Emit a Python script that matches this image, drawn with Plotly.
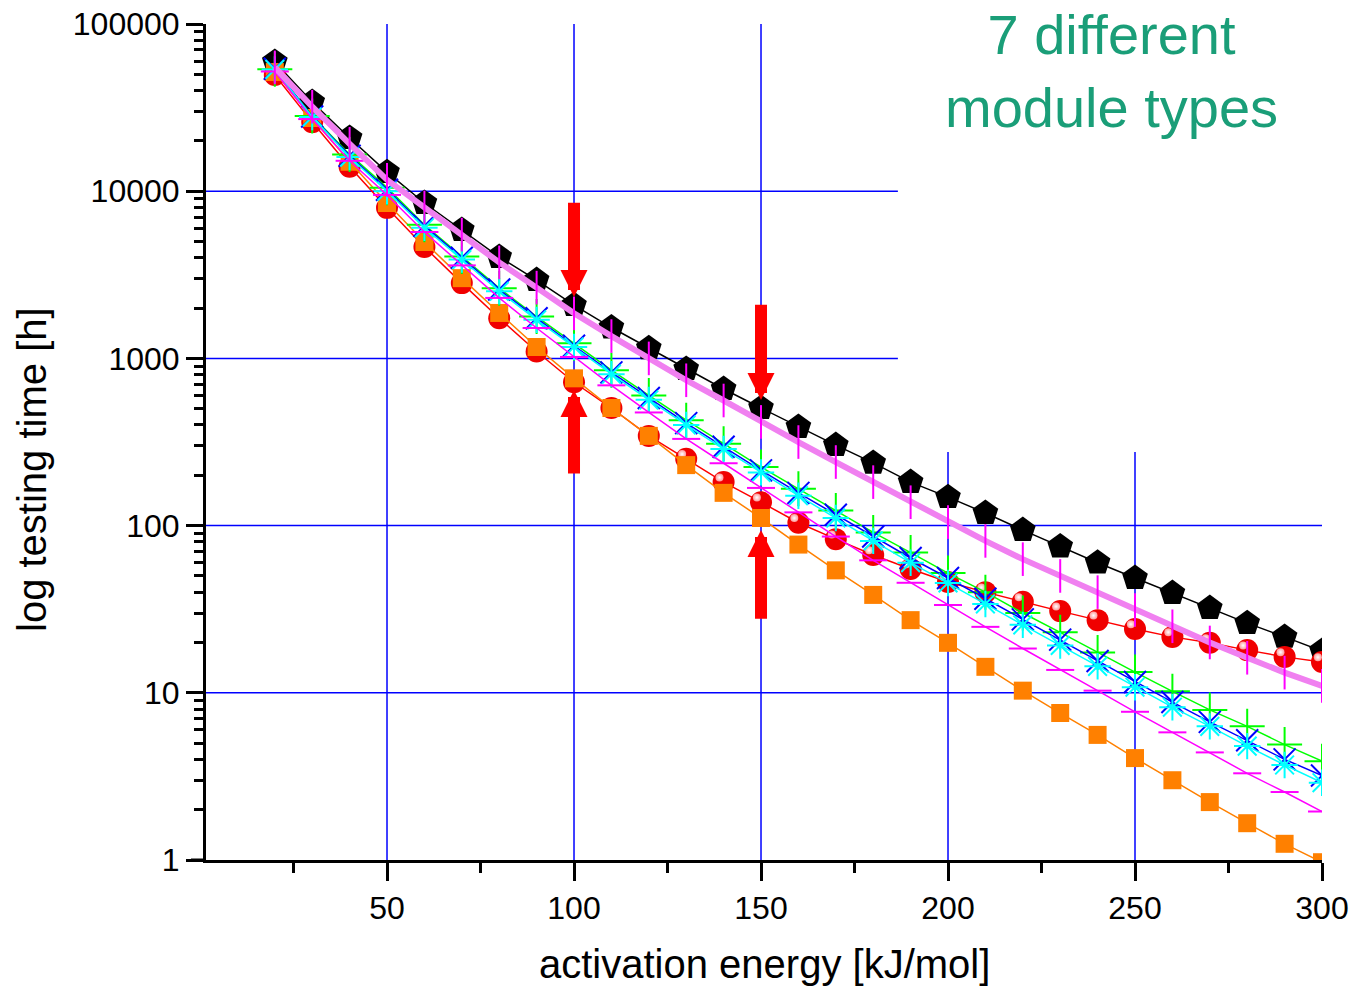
import math
import plotly.graph_objects as go

# ---------------- data ----------------
energy = list(range(20, 301, 10))  # activation energy [kJ/mol]

black_pent = [59300, 34100, 20800, 13000, 8500, 5860, 4040, 2940, 2085, 1530,
              1150, 864, 656, 505, 389, 303, 237, 182, 148, 119,
              94, 75, 60, 48.6, 39.5, 32.1, 26.1, 21.6, 17.8]
red_sphere = [49500, 25900, 14000, 7950, 4640, 2820, 1740, 1100, 720, 505,
              344, 251, 182, 138, 104, 83, 66.7, 55, 46, 40,
              35, 30.8, 27.2, 24.1, 21.6, 19.9, 18.0, 16.4, 15.3]
orange_sq = [51600, 27400, 15000, 8500, 4970, 3020, 1870, 1170, 760, 505,
             344, 230, 157, 111, 77, 54, 38.5, 27.2, 19.9, 14.3,
             10.3, 7.57, 5.6, 4.07, 3.0, 2.22, 1.66, 1.25, 0.97]
green_plus = [53700, 28200, 16600, 10500, 6300, 4070, 2630, 1780, 1230, 850,
              600, 427, 309, 224, 166, 123, 91, 69, 52, 40,
              30, 23, 17.4, 13.3, 10.2, 7.9, 6.3, 4.9, 3.9]
blue_x = [54000, 28000, 16300, 10200, 6200, 4000, 2580, 1740, 1190, 825,
          580, 410, 296, 214, 157, 116, 86, 64, 48.6, 36.5,
          27.5, 20.8, 15.5, 11.6, 8.8, 6.7, 5.2, 4.0, 3.2]
cyan_star = [53500, 27800, 16000, 10000, 6050, 3900, 2520, 1700, 1170, 805,
             565, 400, 287, 208, 151, 111, 81, 60, 45.4, 34,
             25.5, 19.2, 14.4, 10.8, 8.2, 6.3, 4.8, 3.7, 2.9]
magenta_dash = [52000, 27000, 15200, 9500, 5700, 3600, 2300, 1520, 1020, 690,
                475, 330, 236, 168, 120, 86, 62, 45.5, 33.5, 24.8,
                18.4, 13.7, 10.3, 7.7, 5.8, 4.4, 3.3, 2.55, 1.95]
violet_line = [55000, 32000, 19200, 11700, 8000, 5500, 3750, 2650, 1860, 1360,
               1000, 740, 560, 417, 316, 240, 182, 138, 105, 81,
               63, 50, 40, 31.3, 25, 20, 16.2, 13.2, 11]

y_tick_vals = [1, 10, 100, 1000, 10000, 100000]
y_tick_text = ["1", "10", "100", "1000", "10000", "100000"]
y_minor_vals = [m * d for d in [1, 10, 100, 1000, 10000] for m in range(2, 10)]
x_tick_vals = [50, 100, 150, 200, 250, 300]
x_tick_text = ["50", "100", "150", "200", "250", "300"]
x_minor_vals = [25, 75, 125, 175, 225, 275]

# arrows: (energy, tip value, tail value)
arrow_x = [100, 100, 150, 150]
arrow_tip = [2330, 647, 564, 94]
arrow_tail = [8700, 201, 2140, 27.2]

FONT = "Liberation Sans, Arial, sans-serif"

fig = go.Figure()


def add_series(y, line_color, symbol, size, marker_color, line_width=1.5,
               mline_width=0, mline_color=None):
    fig.add_trace(go.Scatter(
        x=energy, y=y, mode="lines+markers",
        line=dict(color=line_color, width=line_width),
        marker=dict(symbol=symbol, size=size, color=marker_color,
                    line=dict(width=mline_width,
                              color=mline_color if mline_color else marker_color)),
        hoverinfo="skip", showlegend=False))


add_series(black_pent, "black", "pentagon", 27, "black")
add_series(red_sphere, "#ff0000", "circle", 22, "#f00000")
# specular highlight of the sphere markers
fig.add_trace(go.Scatter(
    x=[e - 1.1 for e in energy], y=[v * 10 ** 0.028 for v in red_sphere],
    mode="markers",
    marker=dict(symbol="circle", size=8, color="#ff9a9a",
                gradient=dict(type="radial", color="#ffffff"), line=dict(width=0)),
    hoverinfo="skip", showlegend=False))
add_series(orange_sq, "#ff8000", "square", 18, "#ff8000")
add_series(green_plus, "#00ff00", "cross-thin", 25, "#00ff00", mline_width=2)
add_series(blue_x, "#0000ff", "x-thin", 22, "#0000ff", mline_width=2)
add_series(cyan_star, "#00ffff", "asterisk", 22, "#00ffff", mline_width=2)
add_series(magenta_dash, "#ff00ff", "line-ew", 20, "#ff00ff", mline_width=2)
add_series(violet_line, "#f080f0", "line-ns", 24, "#ff00ff", line_width=6,
           mline_width=2)

shapes = []
# grid lines (blue)
for xv in [50, 100, 150]:
    shapes.append(dict(type="line", xref="x", yref="paper", x0=xv, x1=xv, y0=0, y1=1,
                       line=dict(color="#0000ff", width=1.5), layer="below"))
for xv in [200, 250]:
    shapes.append(dict(type="line", xref="x", yref="paper", x0=xv, x1=xv, y0=0, y1=0.488,
                       line=dict(color="#0000ff", width=1.5), layer="below"))
for yv in [10, 100]:
    shapes.append(dict(type="line", xref="paper", yref="y", x0=0, x1=1, y0=yv, y1=yv,
                       line=dict(color="#0000ff", width=1.5), layer="below"))
for yv in [1000, 10000]:
    shapes.append(dict(type="line", xref="x", yref="y", x0=1.6, x1=186.6, y0=yv, y1=yv,
                       line=dict(color="#0000ff", width=1.5), layer="below"))
# x-axis line stub left of the y axis
shapes.append(dict(type="line", xref="paper", yref="paper", x0=-15 / 1116, x1=0, y0=0, y1=0,
                   line=dict(color="black", width=3), layer="above"))

annotations = []
for ax_, tip, tail in zip(arrow_x, arrow_tip, arrow_tail):
    annotations.append(dict(
        x=ax_, y=math.log10(tip), ax=ax_, ay=math.log10(tail),
        xref="x", yref="y", axref="x", ayref="y", text="",
        showarrow=True, arrowhead=2, arrowsize=0.45, arrowwidth=12,
        arrowcolor="#ff0000", standoff=0, startstandoff=0))

annotations.append(dict(
    text="7 different<br>module types", xref="paper", yref="paper",
    x=(1111 - 206) / 1116, y=(860 - 1) / 836, xanchor="center", yanchor="top",
    showarrow=False, font=dict(family=FONT, size=56, color="#1a9e78")))
annotations.append(dict(
    text="log testing time [h]", xref="paper", yref="paper",
    x=(32 - 206) / 1116, y=(860 - 470) / 836, xanchor="center", yanchor="middle",
    textangle=-90, showarrow=False, font=dict(family=FONT, size=40, color="black")))
annotations.append(dict(
    text="activation energy [kJ/mol]", xref="paper", yref="paper",
    x=0.5, y=(860 - 964) / 836, xanchor="center", yanchor="middle",
    showarrow=False, font=dict(family=FONT, size=40, color="black")))

fig.update_layout(
    width=1352, height=989,
    margin=dict(l=206, r=30, t=24, b=129, autoexpand=False),
    paper_bgcolor="white", plot_bgcolor="white",
    font=dict(family=FONT, color="black"),
    showlegend=False,
    shapes=shapes, annotations=annotations,
    xaxis=dict(
        range=[1.6, 300], showgrid=False, zeroline=False, automargin=False,
        showline=True, linecolor="black", linewidth=3,
        tickmode="array", tickvals=x_tick_vals, ticktext=x_tick_text,
        ticks="outside", ticklen=18, tickwidth=3, tickcolor="black",
        tickfont=dict(family=FONT, size=32, color="black"),
        minor=dict(tickmode="array", tickvals=x_minor_vals, ticks="outside",
                   ticklen=10, tickwidth=3, tickcolor="black", showgrid=False),
    ),
    yaxis=dict(
        type="log", range=[0, 5], showgrid=False, zeroline=False, automargin=False,
        showline=True, linecolor="black", linewidth=3,
        tickmode="array", tickvals=y_tick_vals, ticktext=y_tick_text,
        ticks="outside", ticklen=17, tickwidth=3, tickcolor="black",
        tickfont=dict(family=FONT, size=32, color="black"),
        minor=dict(tickmode="array", tickvals=y_minor_vals, ticks="outside",
                   ticklen=9, tickwidth=3, tickcolor="black", showgrid=False),
    ),
)

fig.write_html("out.html")
